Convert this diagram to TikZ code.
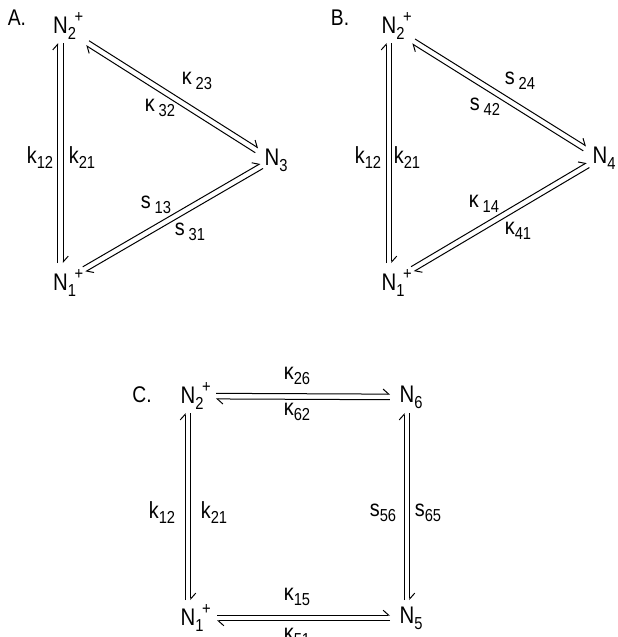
\documentclass[tikz,border=0pt]{standalone}
\usepackage{fontspec}
\setmainfont{Liberation Sans}[FakeStretch=0.85]
\usetikzlibrary{arrows.meta,calc}
% species label: N with subscript and optional charge
\newcommand{\Nsp}[2]{N\rlap{\raisebox{-0.45ex}{\fontsize{13}{13}\selectfont #1}}%
  \rlap{\kern0.28em\raisebox{0.85ex}{\fontsize{13}{13}\selectfont #2}}}
% rate constant with lowered index
\newcommand{\kin}[2]{#1\raisebox{-0.4ex}{\fontsize{13}{13}\selectfont #2}}
\newcommand{\gap}{2.1pt}
% pair of opposite harpoons between two species
\newcommand{\eqpair}[4]{%
  \draw[harp, shorten <=#3, shorten >=#4] ($(#1)!\gap!90:(#2)$) -- ($(#2)!\gap!-90:(#1)$);
  \draw[harp, shorten <=#4, shorten >=#3] ($(#2)!\gap!90:(#1)$) -- ($(#1)!\gap!-90:(#2)$);}
\begin{document}
\begin{tikzpicture}[x=0.75pt, y=-0.75pt,
    species/.style={inner sep=0pt, font=\fontsize{18}{19}\selectfont},
    rate/.style={inner sep=0pt, font=\fontsize{17.5}{18}\selectfont},
    panel/.style={inner sep=0pt, font=\fontsize{17}{18}\selectfont},
    harp/.style={-{Straight Barb[left, length=4.2pt, width=7.5pt]}, line width=0.75pt}
]
    \useasboundingbox (0,0) rectangle (618,637);

    % A.
    \node[panel] (pa) at (17,18) {A.};
    \node[species] (a2) at (60.5,26) {\Nsp{2}{+}};
    \node[species] (a1) at (60.5,283) {\Nsp{1}{+}};
    \node[species] (a3) at (272,160) {\Nsp{3}{}};
    \eqpair{a1}{a2}{15pt}{12.75pt}
    \eqpair{a2}{a3}{24pt}{13.5pt}
    \eqpair{a3}{a1}{9pt}{20.5pt}
    \node[rate] (ak12) at (40,158) {\kin{k}{12}};
    \node[rate] (ak21) at (82,158) {\kin{k}{21}};
    \node[rate] (ak23) at (197,81) {\kin{κ\,}{23}};
    \node[rate] (ak32) at (160,108) {\kin{κ\,}{32}};
    \node[rate] (as13) at (156,205) {\kin{s\,}{13}};
    \node[rate] (as31) at (190,232) {\kin{s\,}{31}};

    % B.
    \node[panel] (pb) at (340,18) {B.};
    \node[species] (b2) at (389,26) {\Nsp{2}{+}};
    \node[species] (b1) at (389,283) {\Nsp{1}{+}};
    \node[species] (b4) at (600,158) {\Nsp{4}{}};
    \eqpair{b1}{b2}{15pt}{12.75pt}
    \eqpair{b2}{b4}{21.75pt}{13.5pt}
    \eqpair{b4}{b1}{10.5pt}{20.5pt}
    \node[rate] (bk12) at (368,158) {\kin{k}{12}};
    \node[rate] (bk21) at (407,158) {\kin{k}{21}};
    \node[rate] (bs24) at (520,81) {\kin{s\,}{24}};
    \node[rate] (bs42) at (485,107) {\kin{s\,}{42}};
    \node[rate] (bk14) at (484,204) {\kin{κ\,}{14}};
    \node[rate] (bk41) at (518,231) {\kin{κ}{41}};

    % C.
    \node[panel] (pc) at (142,395) {C.};
    \node[species] (c2) at (188,396) {\Nsp{2}{+}};
    \node[species] (c6) at (407,397) {\Nsp{6}{}};
    \node[species] (c1) at (188,618) {\Nsp{1}{+}};
    \node[species] (c5) at (407,618) {\Nsp{5}{}};
    \eqpair{c2}{c6}{21pt}{12.75pt}
    \eqpair{c1}{c2}{13.5pt}{12.75pt}
    \eqpair{c6}{c5}{12pt}{13.5pt}
    \eqpair{c1}{c5}{21.75pt}{12.75pt}
    \node[rate] (ck26) at (297,376) {\kin{κ}{26}};
    \node[rate] (ck62) at (297,412) {\kin{κ}{62}};
    \node[rate] (ck15) at (297,597) {\kin{κ}{15}};
    \node[rate] (ck51) at (297,637) {\kin{κ}{51}};
    \node[rate] (ck12) at (162,513) {\kin{k}{12}};
    \node[rate] (ck21) at (214,513) {\kin{k}{21}};
    \node[rate] (cs56) at (383,513) {\kin{s}{56}};
    \node[rate] (cs65) at (428,513) {\kin{s}{65}};
\end{tikzpicture}
\end{document}
